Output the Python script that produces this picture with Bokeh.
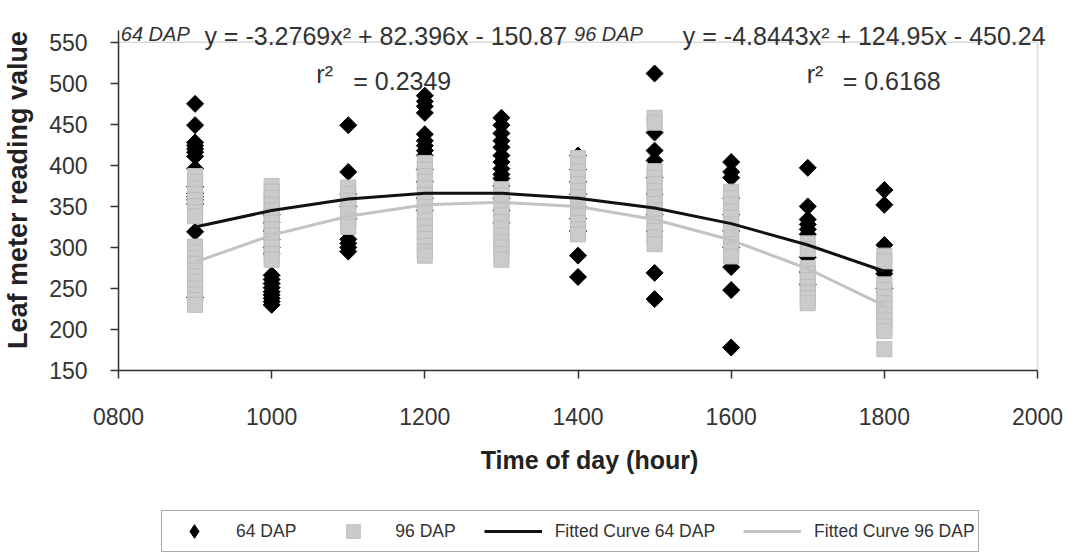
import numpy as np
from bokeh.plotting import figure
from bokeh.layouts import column
from bokeh.models import (Range1d, FixedTicker, Label, Legend, LegendItem,
                          BoxAnnotation)
from bokeh.embed import file_html
from bokeh.resources import INLINE

# ---------------- data ----------------
hours = [9, 10, 11, 12, 13, 14, 15, 16, 17, 18]
tick_hours = [8, 10, 12, 14, 16, 18, 20]
tick_labels = ["0800", "1000", "1200", "1400", "1600", "1800", "2000"]
y_ticks = [150, 200, 250, 300, 350, 400, 450, 500, 550]

# 64 DAP leaf meter readings (diamonds)
d64_09 = [475, 449, 428, 424, 420, 416, 411, 396, 374, 366, 362, 358, 353, 319, 239]
d64_10 = [340, 330, 320, 310, 300, 292, 266, 261, 256, 251, 246, 242, 238, 234, 230]
d64_11 = [449, 392, 365, 350, 335, 310, 305, 300, 295]
d64_12 = [485, 478, 472, 464, 438, 430, 424, 418, 412, 395, 380, 360, 345]
d64_13 = [458, 449, 439, 430, 422, 412, 404, 396, 389, 384, 375, 360, 345, 330]
d64_14 = [412, 395, 380, 365, 350, 335, 320, 290, 264]
d64_15 = [512, 440, 418, 406, 385, 365, 340, 320, 269, 237]
d64_16 = [404, 392, 385, 360, 340, 320, 300, 276, 248, 178]
d64_17 = [397, 350, 334, 328, 322, 316, 288, 270, 255]
d64_18 = [370, 352, 303, 272, 268, 250]

# 96 DAP leaf meter readings (squares)
d96_09 = [387, 380, 372, 365, 358, 350, 343, 338, 301, 294, 287, 280, 272, 265, 258, 250, 243, 236, 230]
d96_10 = [375, 368, 360, 352, 345, 338, 330, 322, 315, 308, 300, 292, 285]
d96_11 = [373, 365, 357, 349, 341, 333, 325]
d96_12 = [403, 395, 387, 380, 372, 364, 356, 349, 341, 333, 325, 318, 310, 302, 295, 290]
d96_13 = [371, 363, 355, 347, 339, 331, 323, 315, 307, 300, 292, 285]
d96_14 = [409, 401, 393, 385, 377, 369, 361, 353, 345, 338, 330, 322, 316]
d96_15 = [458, 452, 393, 385, 377, 369, 361, 353, 345, 337, 329, 320, 312, 304]
d96_16 = [368, 360, 352, 344, 336, 328, 320, 312, 304, 296, 289]
d96_17 = [305, 298, 275, 268, 260, 252, 245, 238, 232]
d96_18 = [290, 283, 255, 248, 240, 232, 225, 218, 211, 204, 198, 176]

# fitted curves read at each hour
fit64 = [325, 345, 359, 366, 366, 360, 348, 329, 303, 271]
fit96 = [282, 315, 338, 352, 355, 350, 334, 309, 274, 229]

eq64_tag = "64 DAP"
eq64_text = "y = -3.2769x\u00b2 + 82.396x - 150.87"
r64_text = "= 0.2349"
eq96_tag = "96 DAP"
eq96_text = "y = -4.8443x\u00b2 + 124.95x - 450.24"
r96_text = "= 0.6168"
r2_text = "r\u00b2"
legend_labels = ["64 DAP", "96 DAP", "Fitted Curve 64 DAP", "Fitted Curve 96 DAP"]

series64 = [d64_09, d64_10, d64_11, d64_12, d64_13, d64_14, d64_15, d64_16, d64_17, d64_18]
series96 = [d96_09, d96_10, d96_11, d96_12, d96_13, d96_14, d96_15, d96_16, d96_17, d96_18]

x64 = [h for h, vals in zip(hours, series64) for _ in vals]
y64 = [v for vals in series64 for v in vals]
x96 = [h for h, vals in zip(hours, series96) for _ in vals]
y96 = [v for vals in series96 for v in vals]

FONT = "Liberation Sans"
TXT = "#333333"
W = 1071
MAIN_H = 504
LEG_H = 50

X0, X1 = tick_hours[0], tick_hours[-1]
Y0, Y1 = y_ticks[0], y_ticks[-1]

diamond_style = dict(marker="square", size=12, angle=np.pi / 4,
                     fill_color="black", line_color="black")
square_style = dict(marker="square", size=15, fill_color="#cbcbcb",
                    line_color="#bdbdbd")
fit64_style = dict(line_color="#111111", line_width=3)
fit96_style = dict(line_color="#c3c3c3", line_width=3)

# ---------------- main chart ----------------
p = figure(width=W, height=MAIN_H, output_backend="svg",
           toolbar_location=None,
           x_range=Range1d(X0, 20.3), y_range=Range1d(Y0, 590),
           min_border_left=117, min_border_right=11, min_border_top=9,
           min_border_bottom=134)
p.background_fill_color = "white"
p.border_fill_color = "white"
p.outline_line_color = None
p.xgrid.visible = False
p.ygrid.visible = False

# plot-area border (top and right sides visible)
p.add_layout(BoxAnnotation(left=X0, right=X1, bottom=Y0, top=Y1,
                           fill_alpha=0, line_color="#808080", line_width=1.5,
                           level="underlay"))

p.scatter(x64, y64, **diamond_style)
p.scatter(x96, y96, **square_style)
p.line(hours, fit64, **fit64_style)
p.line(hours, fit96, **fit96_style)

xa = p.xaxis[0]
xa.ticker = FixedTicker(ticks=tick_hours)
xa.major_label_overrides = {h: l for h, l in zip(tick_hours, tick_labels)}
xa.bounds = (X0, X1)
ya = p.yaxis[0]
ya.ticker = FixedTicker(ticks=y_ticks)
ya.bounds = (Y0, 565)
for ax in (xa, ya):
    ax.axis_line_color = "#333333"
    ax.axis_line_width = 1.5
    ax.major_tick_line_color = "#333333"
    ax.major_tick_line_width = 1.5
    ax.major_tick_in = 0
    ax.major_tick_out = 8
    ax.minor_tick_line_color = None
    ax.major_label_text_font = FONT
    ax.major_label_text_font_size = "23px"
    ax.major_label_text_color = TXT
    ax.axis_label_text_font = FONT
    ax.axis_label_text_font_style = "bold"
    ax.axis_label_text_color = "#222222"
xa.axis_label_text_font_size = "25px"
ya.axis_label_text_font_size = "27px"
xa.axis_label = "Time of day (hour)"
ya.axis_label = "Leaf meter reading value"
xa.major_label_standoff = 29
xa.axis_label_standoff = 18
ya.major_label_standoff = 23
ya.axis_label_standoff = 13


def add_label(x, y, text, size="25px", style="normal"):
    p.add_layout(Label(x=x, y=y, text=text, text_font=FONT, text_font_size=size,
                       text_font_style=style, text_color=TXT, text_align="left",
                       text_baseline="alphabetic"))


add_label(8.03, 559.8, eq64_tag, "20px", "italic")
add_label(9.122, 557.3, eq64_text)
add_label(10.583, 511.0, r2_text)
add_label(11.065, 502.4, r64_text)
add_label(13.948, 559.8, eq96_tag, "20px", "italic")
add_label(15.369, 557.3, eq96_text)
add_label(16.987, 511.0, r2_text)
add_label(17.456, 502.4, r96_text)

# ---------------- legend strip ----------------
lg = figure(width=W, height=LEG_H, output_backend="svg", toolbar_location=None,
            x_axis_type=None, y_axis_type=None, min_border=0,
            min_border_left=117, min_border_right=11,
            x_range=Range1d(0, 1), y_range=Range1d(0, 1))
lg.outline_line_color = None
lg.grid.visible = False
lg.background_fill_color = "white"
lg.border_fill_color = "white"
# same series (outside this strip's view) so the legend can draw their glyphs
lr_d = lg.scatter(x64, y64, marker="diamond", size=12,
                  fill_color="black", line_color="black")
lr_s = lg.scatter(x96, y96, **square_style)
lr_f64 = lg.line(hours, fit64, **fit64_style)
lr_f96 = lg.line(hours, fit96, **fit96_style)

legend = Legend(items=[
    LegendItem(label=legend_labels[0], renderers=[lr_d]),
    LegendItem(label=legend_labels[1], renderers=[lr_s]),
    LegendItem(label=legend_labels[2], renderers=[lr_f64]),
    LegendItem(label=legend_labels[3], renderers=[lr_f96]),
], orientation="horizontal", location=(43, 2))
legend.margin = 0
legend.label_text_font = FONT
legend.label_text_font_size = "17.5px"
legend.label_text_color = TXT
legend.glyph_width = 58
legend.glyph_height = 34
legend.label_height = 20
legend.spacing = 28
legend.label_standoff = 13
legend.padding = 3
legend.border_line_color = "#555555"
legend.border_line_width = 1.5
legend.background_fill_color = "white"
legend.background_fill_alpha = 1.0
lg.add_layout(legend, "center")

layout = column(p, lg, spacing=0)
open("out.html", "w").write(file_html(layout, INLINE))
